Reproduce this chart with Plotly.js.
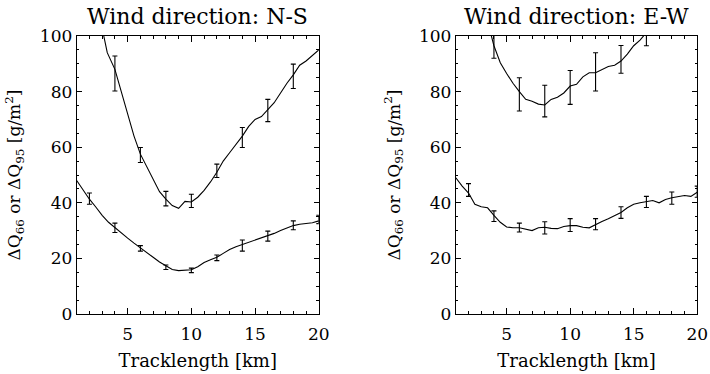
<!DOCTYPE html>
<html>
<head>
<meta charset="utf-8">
<script src="https://cdn.plot.ly/plotly-3.0.1.min.js"></script>
<style>html,body{margin:0;padding:0;background:#fff;}#chart{width:710px;height:374px;}</style>
</head>
<body>
<div id="chart"></div>
<script>
// ---- Data ----
// Panel titles
const panelTitles = ["Wind direction: N-S", "Wind direction: E-W"];
const xTitle = "Tracklength [km]";
const yTitle = "ΔQ<sub>66</sub> or ΔQ<sub>95</sub> [g/m<sup>2</sup>]";
const xTickVals = [5, 10, 15, 20];
const yTickVals = [0, 20, 40, 60, 80, 100];

// N-S panel, upper curve (ΔQ95)
const nsQ95LineX = [2.9, 3.1, 3.4, 4, 4.5, 5, 5.5, 6, 6.5, 7, 7.5, 8, 8.5, 9, 9.5, 10, 10.5, 11, 11.5, 12, 12.5, 13, 13.5, 14, 14.5, 15, 15.5, 16, 16.5, 17, 17.5, 18, 18.5, 19, 19.5, 20];
const nsQ95LineY = [105, 100, 94, 88, 80, 72, 64, 57.5, 53, 49, 44, 41.3, 39, 38, 40.5, 40.3, 42, 44.5, 47.5, 51, 55, 58, 61, 64, 67.5, 70, 71, 73.5, 76, 79.5, 83, 86, 89.5, 91, 93, 95];
const nsQ95BarX = [4, 6, 8, 10, 12, 14, 16, 18];
const nsQ95BarY = [86.5, 57.2, 41.5, 40.7, 51.5, 63.5, 73.2, 85.5];
const nsQ95BarErr = [6.3, 2.7, 2.6, 2.4, 2.4, 3.6, 4.0, 4.4];

// N-S panel, lower curve (ΔQ66)
const nsQ66LineX = [1, 1.5, 2, 2.5, 3, 3.5, 4, 4.5, 5, 5.5, 6, 6.5, 7, 7.5, 8, 8.5, 9, 9.5, 10, 10.5, 11, 11.5, 12, 12.5, 13, 13.5, 14, 14.5, 15, 15.5, 16, 16.5, 17, 17.5, 18, 18.5, 19, 19.5, 20];
const nsQ66LineY = [48, 44.5, 41.3, 38.5, 35.5, 33, 31, 29.2, 27.3, 25.5, 23.7, 22, 20.4, 18.7, 17.2, 16, 15.6, 15.7, 15.9, 17, 18.5, 19.5, 20.4, 21.8, 23.2, 24.2, 25, 25.8, 26.5, 27.2, 28, 29, 30, 31, 31.8, 32.3, 32.5, 32.8, 33.5];
const nsQ66BarX = [2, 4, 6, 8, 10, 12, 14, 16, 18, 20];
const nsQ66BarY = [41.5, 31, 23.6, 16.8, 15.7, 20.2, 24.6, 28, 31.9, 34];
const nsQ66BarErr = [2, 1.7, 1, 0.8, 0.8, 1, 2, 1.8, 1.6, 1.5];

// E-W panel, upper curve (ΔQ95)
const ewQ95LineX = [3.6, 3.8, 4, 4.5, 5, 5.5, 6, 6.5, 7, 7.5, 8, 8.5, 9, 9.5, 10, 10.5, 11, 11.5, 12, 12.5, 13, 13.5, 14, 14.5, 15, 15.5, 16, 16.5];
const ewQ95LineY = [102, 100, 96.5, 90.4, 86.5, 83, 80, 77.2, 76.5, 75.5, 75.2, 77.2, 78, 79.5, 82, 82.6, 85.3, 86.8, 86.8, 88, 89, 89.5, 91, 93.5, 96.5, 98.5, 101, 104];
const ewQ95BarX = [4, 6, 8, 10, 12, 14, 16];
const ewQ95BarY = [96.5, 79, 76.6, 81.5, 87.1, 91.6, 102];
const ewQ95BarErr = [4.5, 6, 5.7, 6.1, 6.9, 5, 5.5];

// E-W panel, lower curve (ΔQ66)
const ewQ66LineX = [1, 1.5, 2, 2.5, 3, 3.5, 4, 4.5, 5, 5.5, 6, 6.5, 7, 7.5, 8, 8.5, 9, 9.5, 10, 10.5, 11, 11.5, 12, 12.5, 13, 13.5, 14, 14.5, 15, 15.5, 16, 16.5, 17, 17.5, 18, 18.5, 19, 19.5, 20];
const ewQ66LineY = [49, 46, 43.5, 39.5, 38.6, 38.2, 35.5, 33, 31.3, 31, 31, 30.5, 30, 31, 31.2, 30.8, 30.7, 31.5, 31.8, 31.8, 31.2, 31, 32.3, 33.3, 34.3, 35.3, 36.5, 38.2, 39.5, 40, 40.5, 40.8, 40, 41.2, 41.8, 42.3, 42.6, 42.3, 43.8];
const ewQ66BarX = [2, 4, 6, 8, 10, 12, 14, 16, 18, 20];
const ewQ66BarY = [44.6, 35.2, 31.1, 31, 32, 32.3, 36.5, 40.3, 41.7, 44];
const ewQ66BarErr = [2.3, 1.9, 1.6, 2.2, 2.3, 2, 2.1, 2, 2.2, 2];

// ---- Build traces ----
const FONT = "DejaVu Serif";
function lineTrace(x, y, xa, ya) {
  return {x: x, y: y, xaxis: xa, yaxis: ya, type: "scatter", mode: "lines",
          line: {color: "#000", width: 1.1}, hoverinfo: "skip", showlegend: false};
}
function barTrace(x, y, e, xa, ya) {
  return {x: x, y: y, xaxis: xa, yaxis: ya, type: "scatter", mode: "markers",
          marker: {size: 1, color: "rgba(0,0,0,0)"},
          error_y: {type: "data", array: e, visible: true, color: "#000", thickness: 1.1, width: 2.5},
          hoverinfo: "skip", showlegend: false};
}

const traces = [
  lineTrace(nsQ95LineX, nsQ95LineY, "x", "y"),
  barTrace(nsQ95BarX, nsQ95BarY, nsQ95BarErr, "x", "y"),
  lineTrace(nsQ66LineX, nsQ66LineY, "x", "y"),
  barTrace(nsQ66BarX, nsQ66BarY, nsQ66BarErr, "x", "y"),
  lineTrace(ewQ95LineX, ewQ95LineY, "x2", "y2"),
  barTrace(ewQ95BarX, ewQ95BarY, ewQ95BarErr, "x2", "y2"),
  lineTrace(ewQ66LineX, ewQ66LineY, "x2", "y2"),
  barTrace(ewQ66BarX, ewQ66BarY, ewQ66BarErr, "x2", "y2")
];

function xAxis(domain, anchor) {
  return {domain: domain, anchor: anchor, range: [1, 20], showgrid: false, zeroline: false,
          showline: true, linecolor: "#000", linewidth: 1, mirror: "ticks",
          ticks: "inside", ticklen: 6, tickcolor: "#000", tickwidth: 1,
          tickvals: xTickVals, ticktext: xTickVals.map(String), ticklabelstandoff: 5,
          minor: {dtick: 1, tick0: 0, ticks: "inside", ticklen: 3, tickcolor: "#000", tickwidth: 1, showgrid: false},
          tickfont: {family: FONT, size: 17, color: "#000"},
          title: {text: xTitle, font: {family: FONT, size: 18, color: "#000"}, standoff: 10},
          automargin: false};
}
function yAxis(anchor) {
  return {domain: [0, 1], anchor: anchor, range: [0, 100], showgrid: false, zeroline: false,
          showline: true, linecolor: "#000", linewidth: 1, mirror: "ticks",
          ticks: "inside", ticklen: 5, tickcolor: "#000", tickwidth: 1,
          tickvals: yTickVals, ticktext: yTickVals.map(String),
          minor: {dtick: 5, tick0: 0, ticks: "inside", ticklen: 2.5, tickcolor: "#000", tickwidth: 1, showgrid: false},
          tickfont: {family: FONT, size: 17, color: "#000"},
          title: {text: yTitle, font: {family: FONT, size: 17, color: "#000"}, standoff: 14},
          automargin: false};
}

const layout = {
  width: 710, height: 374,
  margin: {l: 0, r: 0, t: 36, b: 60},
  paper_bgcolor: "#fff", plot_bgcolor: "#fff",
  xaxis: xAxis([0.108, 0.449], "y"),
  yaxis: yAxis("x"),
  xaxis2: xAxis([0.642, 0.982], "y2"),
  yaxis2: yAxis("x2"),
  annotations: [
    {text: panelTitles[0], xref: "x domain", yref: "y domain", x: 0.5, y: 1, xanchor: "center", yanchor: "bottom", yshift: 5, showarrow: false, font: {family: FONT, size: 22, color: "#000"}},
    {text: panelTitles[1], xref: "x2 domain", yref: "y2 domain", x: 0.5, y: 1, xanchor: "center", yanchor: "bottom", yshift: 5, showarrow: false, font: {family: FONT, size: 22, color: "#000"}}
  ],
  showlegend: false
};

Plotly.newPlot("chart", traces, layout, {staticPlot: true, displayModeBar: false});
</script>
</body>
</html>
